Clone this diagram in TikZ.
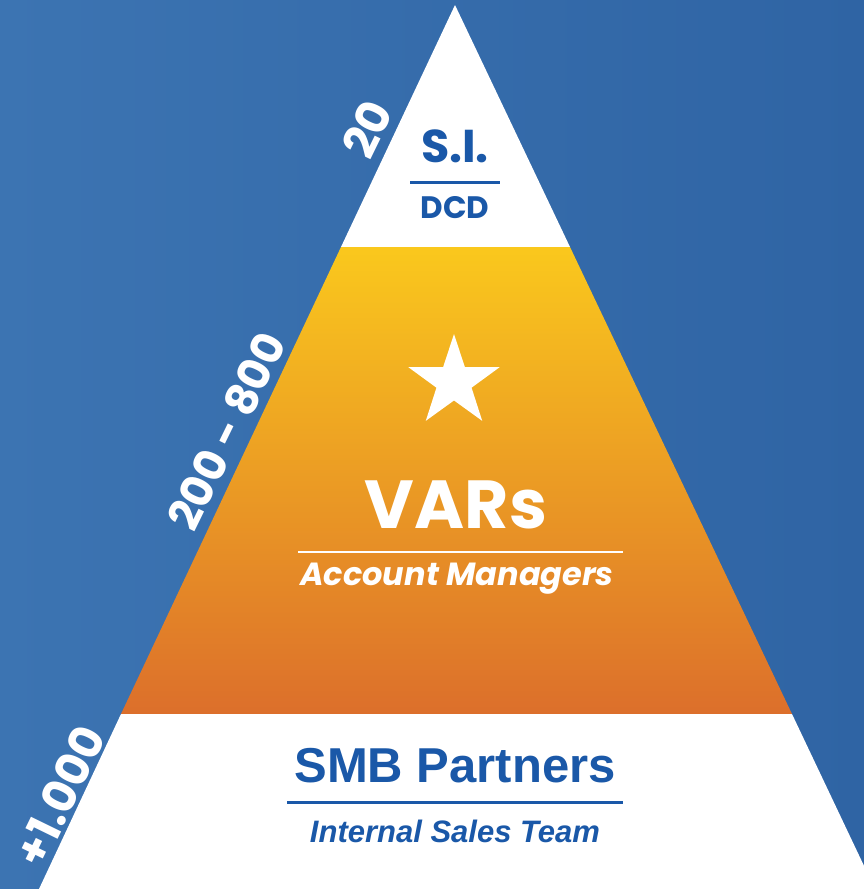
\documentclass[tikz,border=0pt]{standalone}
\usepackage{fontspec}
\setmainfont{Poppins}
\newfontfamily\arialfont{Liberation Sans}
\usetikzlibrary{shapes.geometric}
\definecolor{bgleft}{HTML}{3C74B2}
\definecolor{bgright}{HTML}{2F64A4}
\definecolor{piblue}{HTML}{1A58A8}
\definecolor{varyellow}{HTML}{FAC81D}
\definecolor{varmid}{HTML}{F0AC22}
\definecolor{varorange}{HTML}{DC6F2B}
\tikzset{
  sizefont/.style={font=\bfseries\fontsize{#1}{#1}\selectfont},
  countlabel/.style={text=white, rotate=64, inner sep=0pt, sizefont=#1},
  blueline/.style={piblue, line width=3pt},
  whiteline/.style={white, line width=2pt}
}
\begin{document}
\begin{tikzpicture}[x=1pt, y=-1pt]

\useasboundingbox (0,0) rectangle (864,889);
\clip (0,0) rectangle (864,889);
\shade[left color=bgleft, right color=bgright] (0,0) rectangle (864,889);

\coordinate (apex) at (455,5);
\coordinate (tl) at (341,247);
\coordinate (tr) at (570,247);
\coordinate (ml) at (121,714);
\coordinate (mr) at (792,714);
\coordinate (bl) at (39,889);
\coordinate (br) at (875,889);

% layers
\fill[white] (apex)--(tl)--(tr)--cycle;
\shade[top color=varyellow, middle color=varmid, bottom color=varorange] (tl)--(ml)--(mr)--(tr)--cycle;
\fill[white] (ml)--(bl)--(br)--(mr)--cycle;

% top
\node (si) at (455,162)[anchor=base, text=piblue, sizefont=46]{S.I.};
\coordinate (siL) at (410,182);
\coordinate (siR) at (500,182);
\draw[blueline](siL)--(siR);
\node (dcd) at (455,218)[anchor=base, text=piblue, sizefont=31]{DCD};

% middle
\node (star) at (454,382)[star, star points=5, star point ratio=2.6, fill=white, minimum size=96pt, inner sep=0pt]{};
\node (vars) at (456,528)[anchor=base, text=white, sizefont=68]{VARs};
\coordinate (varL) at (298,552);
\coordinate (varR) at (623,552);
\draw[whiteline](varL)--(varR);
\node (acc) at (457,585)[anchor=base, text=white, font=\bfseries\itshape\fontsize{32}{32}\selectfont]{Account Managers};

% bottom
\node (smb) at (455,782)[anchor=base, text=piblue, font=\arialfont\bfseries\fontsize{49}{49}\selectfont]{SMB Partners};
\coordinate (smbL) at (287,802);
\coordinate (smbR) at (623,802);
\draw[blueline](smbL)--(smbR);
\node (team) at (455,842)[anchor=base, text=piblue, font=\arialfont\bfseries\itshape\fontsize{31}{31}\selectfont]{Internal Sales Team};

% counts
\node (c20) at (367,129)[countlabel=46]{20};
\node (c800) at (227,431)[countlabel=44]{200 - 800};
\node (c1000) at (60,796)[countlabel=46]{+1.000};

\end{tikzpicture}
\end{document}
